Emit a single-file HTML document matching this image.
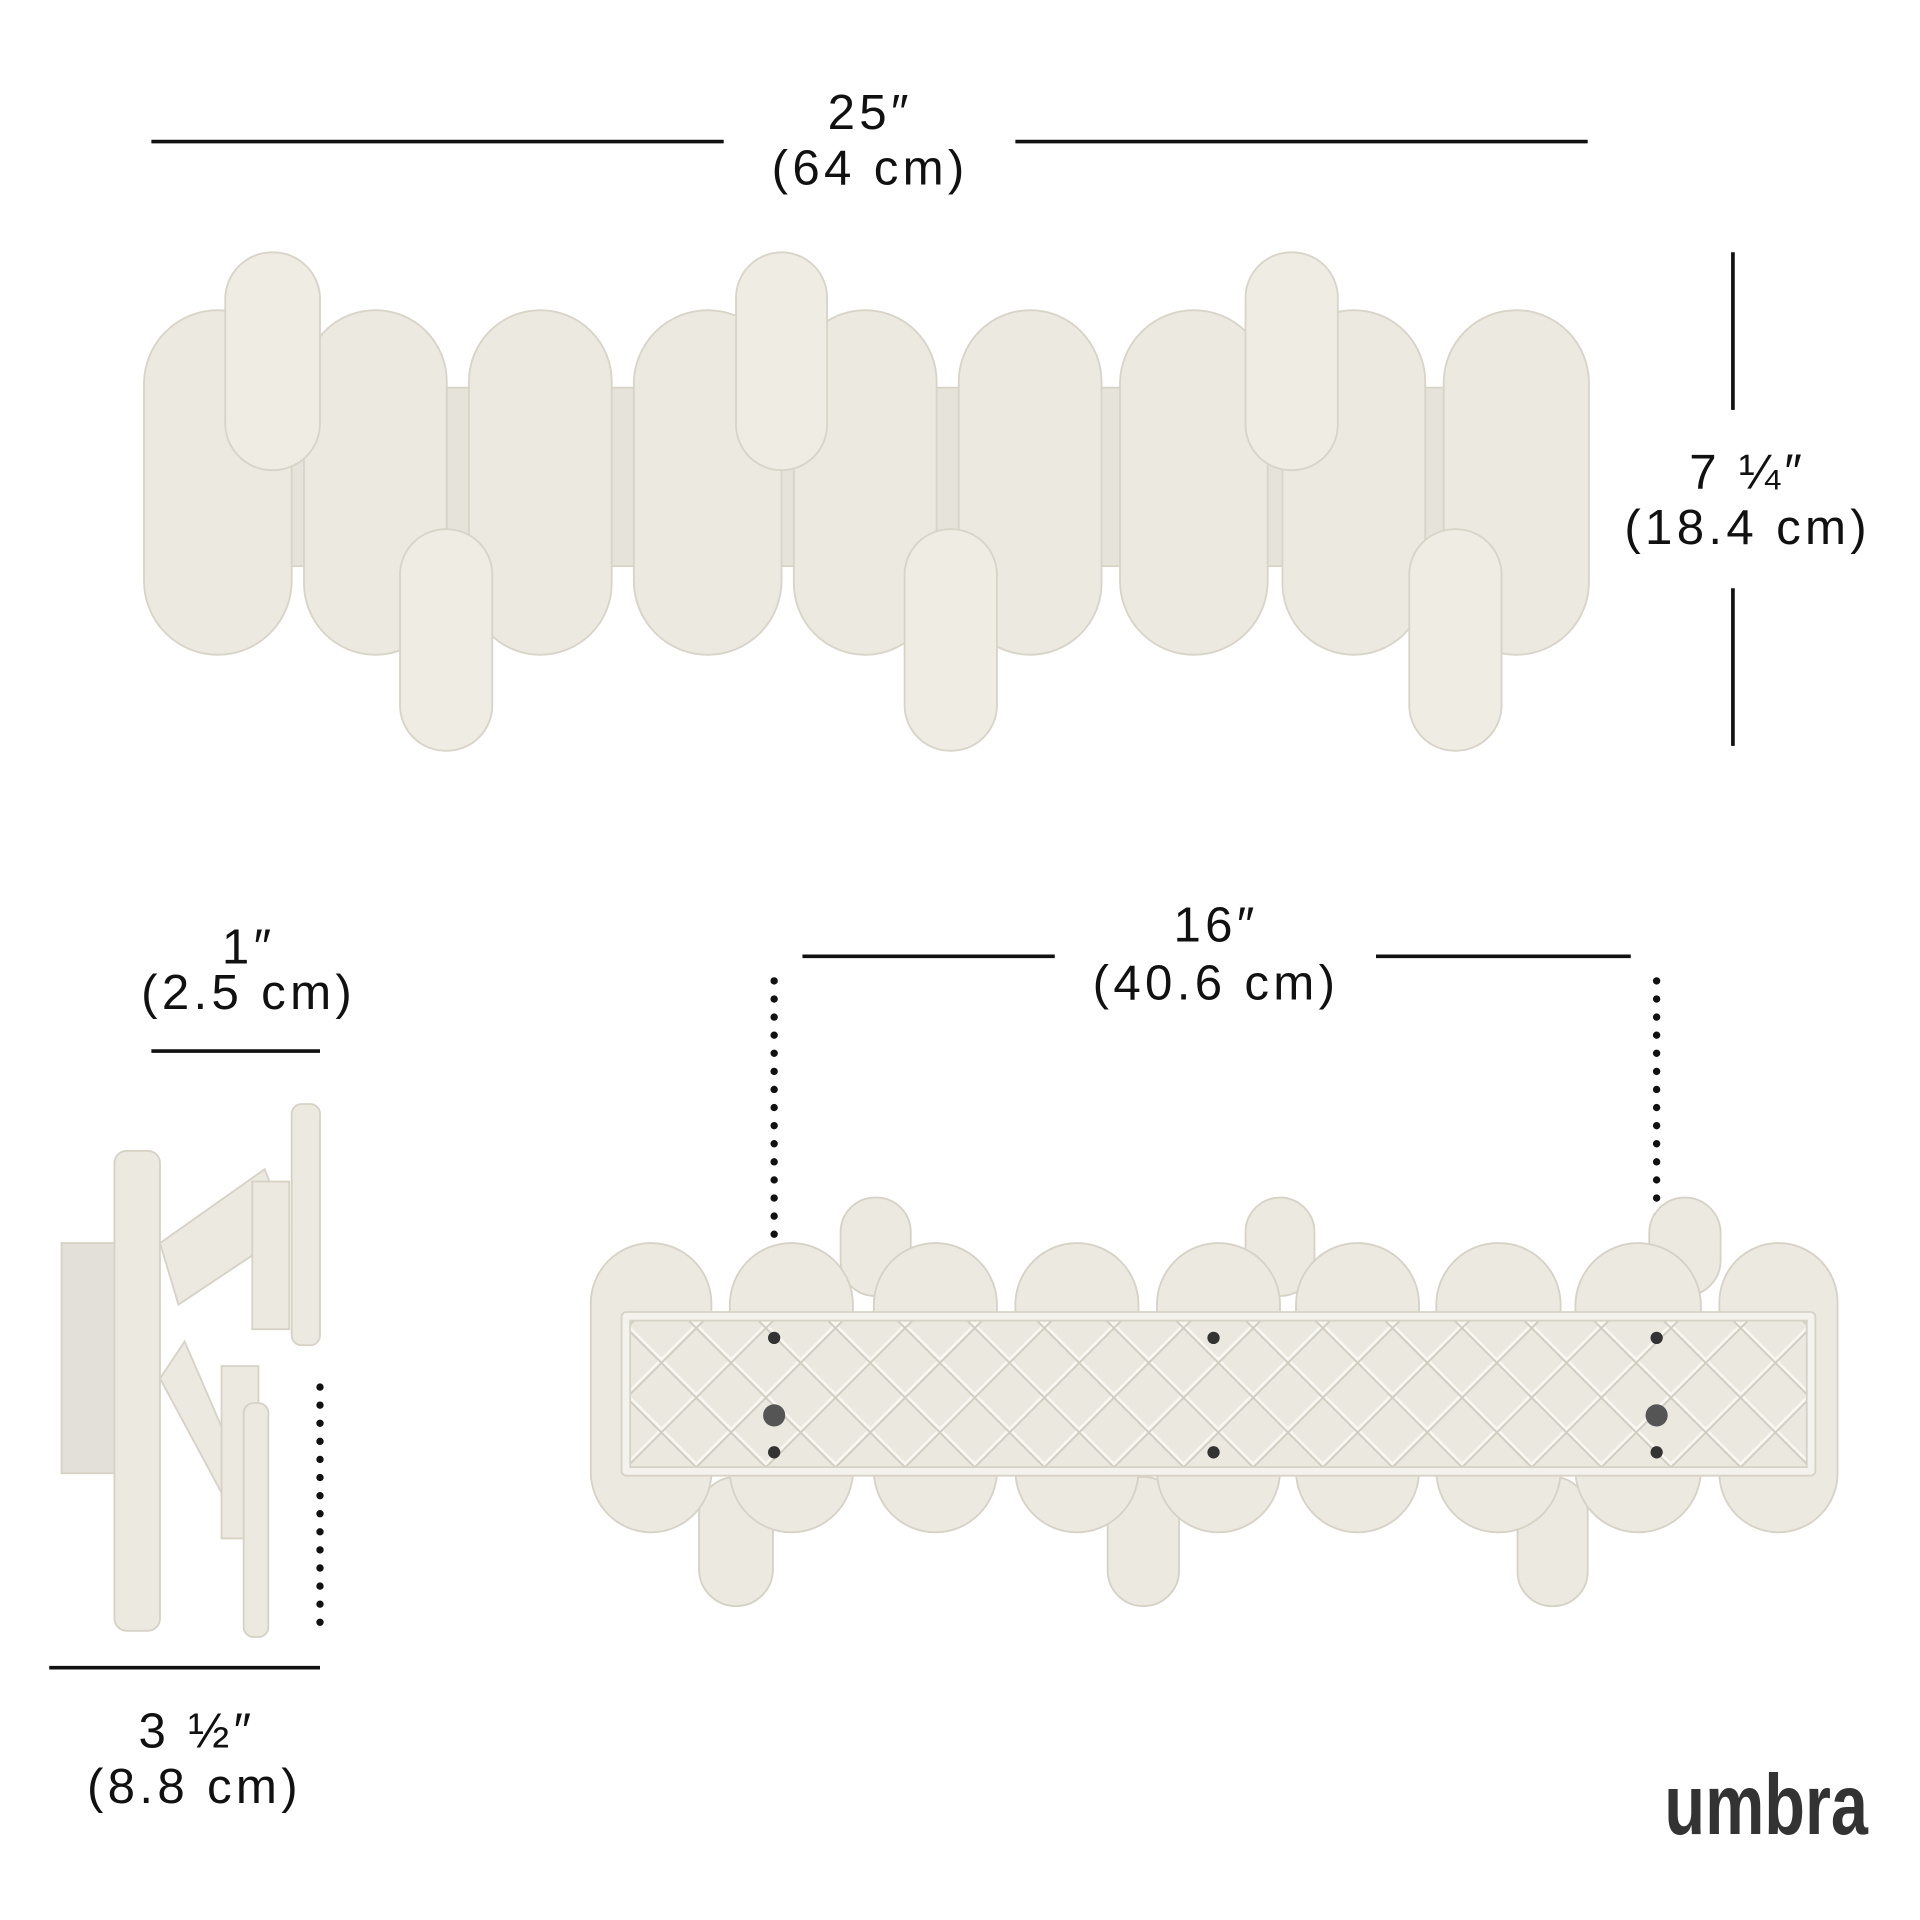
<!DOCTYPE html>
<html><head><meta charset="utf-8"><style>
html,body{margin:0;padding:0;background:#fff;}
svg{display:block;}
text{font-family:"Liberation Sans",sans-serif;fill:#111;}
</style></head><body>
<svg width="1920" height="1920" viewBox="0 0 1560 1560" xmlns="http://www.w3.org/2000/svg">
<defs>
<pattern id="lat" width="40" height="40" patternUnits="userSpaceOnUse" patternTransform="rotate(45)">
<rect width="40" height="40" fill="#ebe8df"/>
<path d="M0 0H40M0 0V40" stroke="#f8f7f2" stroke-width="5"/>
<path d="M0 3H40M3 0V40" stroke="#cfcbbf" stroke-width="1.5"/>
</pattern>
</defs>
<g stroke="#111" stroke-width="3">
<line x1="123" y1="115" x2="588" y2="115"/><line x1="825" y1="115" x2="1290" y2="115"/>
<line x1="1408" y1="205" x2="1408" y2="333"/><line x1="1408" y1="478" x2="1408" y2="606"/>
<line x1="652" y1="777" x2="857" y2="777"/><line x1="1118" y1="777" x2="1325" y2="777"/>
<line x1="123" y1="854" x2="260" y2="854"/><line x1="40" y1="1355" x2="260" y2="1355"/>
</g>
<g stroke="#111" stroke-width="6" stroke-linecap="round" stroke-dasharray="0 14.7">
<line x1="629" y1="797" x2="629" y2="1150"/><line x1="1346" y1="797" x2="1346" y2="1150"/>
<line x1="260" y1="1127" x2="260" y2="1330"/>
</g>
<g font-size="40" text-anchor="middle" letter-spacing="3.5">
<text x="707" y="105">25″</text><text x="707" y="150">(64 cm)</text>
<text x="1420" y="397">7 ¼″</text><text x="1420" y="442">(18.4 cm)</text>
<text x="202" y="783">1″</text><text x="202" y="820">(2.5 cm)</text>
<text x="988" y="765">16″</text><text x="988" y="812">(40.6 cm)</text>
<text x="160" y="1420">3 ½″</text><text x="158" y="1465">(8.8 cm)</text>
</g>
<text transform="translate(1435 1490) scale(0.82 1.05)" font-size="66" font-weight="bold" text-anchor="middle" style="fill:#333">umbra</text>
<g fill="#ece9e0" stroke="#d8d4c8" stroke-width="1.5">
<rect x="117" y="315" width="1173" height="145" fill="#e6e3da"/>
<rect x="117" y="252" width="120" height="280" rx="60"/>
<rect x="247" y="252" width="116" height="280" rx="58"/>
<rect x="381" y="252" width="116" height="280" rx="58"/>
<rect x="515" y="252" width="120" height="280" rx="60"/>
<rect x="645" y="252" width="116" height="280" rx="58"/>
<rect x="779" y="252" width="116" height="280" rx="58"/>
<rect x="910" y="252" width="120" height="280" rx="60"/>
<rect x="1042" y="252" width="116" height="280" rx="58"/>
<rect x="1173" y="252" width="118" height="280" rx="59"/>
<g fill="#efece4">
<rect x="183" y="205" width="77" height="177" rx="38"/>
<rect x="325" y="430" width="75" height="180" rx="37"/>
<rect x="598" y="205" width="74" height="177" rx="37"/>
<rect x="735" y="430" width="75" height="180" rx="37"/>
<rect x="1012" y="205" width="75" height="177" rx="37"/>
<rect x="1145" y="430" width="75" height="180" rx="37"/>
</g>
</g>
<g fill="#ece9e0" stroke="#d6d2c6" stroke-width="1.5">
<rect x="50" y="1010" width="45" height="187" fill="#e2e0d8"/>
<polygon points="130,1010 215,950 235,1000 145,1060"/>
<polygon points="130,1120 200,1250 215,1240 150,1090"/>
<rect x="205" y="960" width="30" height="120"/>
<rect x="180" y="1110" width="30" height="140"/>
<rect x="93" y="935" width="37" height="390" rx="10"/>
<rect x="237" y="897" width="23" height="196" rx="8"/>
<rect x="198" y="1140" width="20" height="190" rx="8"/>
</g>
<g fill="#ece9e0" stroke="#d6d2c6" stroke-width="1.5">
<rect x="683" y="973" width="57" height="80" rx="28"/>
<rect x="1012" y="973" width="56" height="80" rx="28"/>
<rect x="1340" y="973" width="58" height="80" rx="29"/>
<rect x="568" y="1200" width="60" height="105" rx="30"/>
<rect x="900" y="1200" width="58" height="105" rx="29"/>
<rect x="1233" y="1200" width="57" height="105" rx="28"/>
<rect x="480" y="1010" width="98" height="235" rx="49"/>
<rect x="593" y="1010" width="100" height="235" rx="50"/>
<rect x="710" y="1010" width="100" height="235" rx="50"/>
<rect x="825" y="1010" width="100" height="235" rx="50"/>
<rect x="940" y="1010" width="100" height="235" rx="50"/>
<rect x="1053" y="1010" width="100" height="235" rx="50"/>
<rect x="1167" y="1010" width="101" height="235" rx="50"/>
<rect x="1280" y="1010" width="102" height="235" rx="51"/>
<rect x="1397" y="1010" width="96" height="235" rx="48"/>
<rect x="505" y="1066" width="970" height="133" rx="4" fill="#f4f2ec"/>
<rect x="512" y="1073" width="956" height="119" fill="url(#lat)"/>
</g>
<g fill="#333">
<circle cx="629" cy="1087" r="5"/><circle cx="629" cy="1180" r="5"/>
<circle cx="986" cy="1087" r="5"/><circle cx="986" cy="1180" r="5"/>
<circle cx="1346" cy="1087" r="5"/><circle cx="1346" cy="1180" r="5"/>
<circle cx="629" cy="1150" r="9" fill="#555"/><circle cx="1346" cy="1150" r="9" fill="#555"/>
</g>
</svg>
</body></html>
